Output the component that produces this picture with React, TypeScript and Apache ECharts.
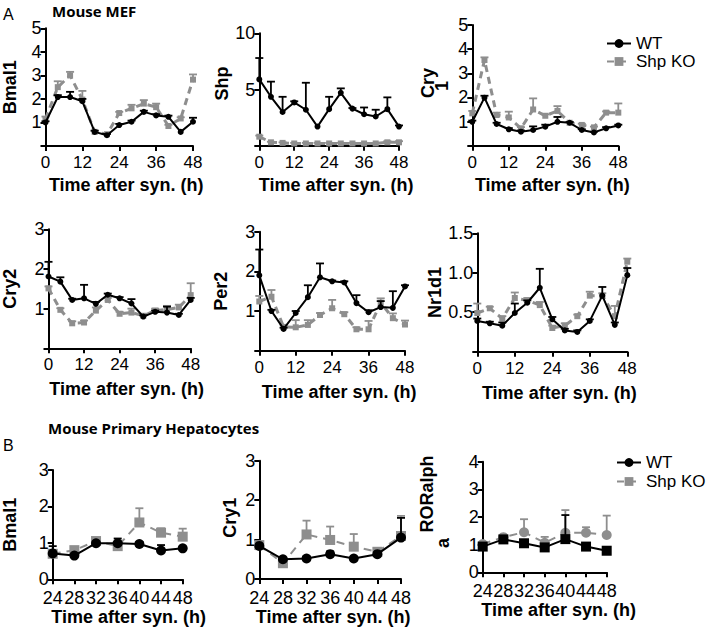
import React, { useEffect, useRef } from 'react';
import * as echarts from 'echarts';

// ---------- data ----------
const hoursA = [0, 4, 8, 12, 16, 20, 24, 28, 32, 36, 40, 44, 48];
const hoursB = [24, 28, 32, 36, 40, 44, 48];
const seriesNames = ['WT', 'Shp KO'];

// Panel A: Mouse MEF
const bmal1WT = [1.0, 2.08, 2.08, 1.9, 0.6, 0.46, 0.89, 1.03, 1.45, 1.3, 1.24, 0.6, 1.03];
const bmal1WTErr = [0.05, 0.08, 0.22, 0.1, 0.05, 0.05, 0.05, 0.05, 0.05, 0.05, 0.05, 0, 0.17];
const bmal1KO = [1.15, 2.5, 3.0, 1.97, 0.6, 0.5, 1.4, 1.6, 1.8, 1.65, 0.85, 1.17, 2.82];
const bmal1KOErr = [0.1, 0.25, 0.15, 0.37, 0.05, 0.05, 0.05, 0.15, 0.15, 0.15, 0.05, 0.05, 0.22];

const shpWT = [5.9, 4.35, 3.0, 3.85, 3.2, 1.7, 3.25, 4.7, 3.3, 2.8, 2.6, 3.25, 1.7];
const shpWTErr = [1.9, 1.35, 1.35, 0.1, 2.4, 0, 1.1, 0.4, 0.05, 0.6, 0.6, 1.05, 0.1];
const shpKO = [0.8, 0.3, 0.25, 0.2, 0.2, 0.2, 0.2, 0.2, 0.2, 0.2, 0.2, 0.3, 0.3];
const shpKOErr = [0.1, 0.05, 0.05, 0.05, 0.05, 0.05, 0.05, 0.05, 0.05, 0.05, 0.05, 0.1, 0.1];

const cry1WT = [0.99, 1.99, 0.9, 0.68, 0.58, 0.65, 0.79, 0.99, 0.95, 0.65, 0.55, 0.72, 0.84];
const cry1WTErr = [0.05, 0.08, 0.05, 0.05, 0.05, 0.15, 0.08, 0.2, 0.03, 0.03, 0.03, 0.05, 0.03];
const cry1KO = [1.34, 3.55, 1.27, 1.17, 0.72, 1.5, 1.24, 1.44, 0.95, 0.86, 0.76, 1.37, 1.37];
const cry1KOErr = [0.1, 0.11, 0.1, 0.24, 0.05, 0.46, 0.06, 0.2, 0.03, 0.05, 0.03, 0.05, 0.38];

const cry2WT = [1.81, 1.68, 1.22, 1.26, 1.12, 1.35, 1.26, 1.13, 0.8, 0.92, 0.9, 0.84, 1.22];
const cry2WTErr = [0.37, 0.11, 0.03, 0.34, 0.05, 0.03, 0.03, 0.11, 0.03, 0.03, 0.15, 0.03, 0.05];
const cry2KO = [1.51, 0.97, 0.63, 0.65, 0.95, 1.22, 0.87, 0.9, 0.82, 0.95, 0.98, 1.03, 1.34];
const cry2KOErr = [0.05, 0.04, 0.05, 0.05, 0.08, 0.05, 0.05, 0.1, 0.03, 0.05, 0.09, 0.07, 0.3];

const per2WT = [1.9, 1.0, 0.55, 0.95, 1.35, 1.85, 1.75, 1.72, 1.2, 0.97, 1.1, 1.08, 1.62];
const per2WTErr = [0.65, 0.03, 0.03, 0.05, 0.3, 0.35, 0.02, 0.03, 0.2, 0.05, 0.15, 0.42, 0.03];
const per2KO = [1.24, 1.36, 0.6, 0.59, 0.65, 0.9, 1.07, 0.92, 0.54, 0.54, 1.21, 0.82, 0.66];
const per2KOErr = [0.14, 0.17, 0.05, 0.18, 0.12, 0.05, 0.21, 0.05, 0.05, 0.21, 0.11, 0.12, 0.1];

const nr1d1WT = [0.39, 0.36, 0.33, 0.49, 0.62, 0.81, 0.41, 0.27, 0.25, 0.39, 0.71, 0.34, 0.97];
const nr1d1WTErr = [0.03, 0.02, 0.04, 0.12, 0.03, 0.24, 0.03, 0.02, 0.02, 0.02, 0.11, 0.03, 0.09];
const nr1d1KO = [0.49, 0.55, 0.42, 0.68, 0.65, 0.59, 0.3, 0.33, 0.45, 0.71, 0.71, 0.45, 1.14];
const nr1d1KOErr = [0.12, 0.02, 0.03, 0.07, 0.03, 0.04, 0.03, 0.03, 0.02, 0.05, 0.03, 0.13, 0.04];

// Panel B: Mouse Primary Hepatocytes
const hBmal1WT = [0.71, 0.65, 0.99, 0.99, 0.97, 0.79, 0.85];
const hBmal1WTErr = [0.2, 0.03, 0.03, 0.13, 0.05, 0.15, 0.03];
const hBmal1KO = [0.7, 0.8, 1.05, 0.91, 1.56, 1.28, 1.17];
const hBmal1KOErr = [0.03, 0.05, 0.03, 0.03, 0.39, 0.12, 0.22];

const hCry1WT = [0.84, 0.5, 0.52, 0.63, 0.52, 0.63, 1.05];
const hCry1WTErr = [0.05, 0.03, 0.05, 0.07, 0.03, 0.05, 0.5];
const hCry1KO = [0.86, 0.4, 1.13, 0.99, 0.82, 0.69, 1.09];
const hCry1KOErr = [0.05, 0.03, 0.35, 0.34, 0.32, 0.03, 0.51];

const hRorWT = [0.93, 1.19, 1.05, 0.9, 1.2, 0.93, 0.78];
const hRorWTErr = [0.05, 0.05, 0.05, 0.05, 0.87, 0.05, 0.05];
const hRorKO = [1.02, 1.27, 1.45, 1.07, 1.43, 1.43, 1.35];
const hRorKOErr = [0.05, 0.05, 0.47, 0.21, 0.82, 0.2, 0.7];

// wrapped y-axis names as in the figure
const cry1NameLines = ['Cry', '1'];
const rorNameLines = ['RORalph', 'a'];

// ---------- styling ----------
const FONT = '"Liberation Sans", Arial, Helvetica, sans-serif';
const TITLE_FONT = '"Open Sans", "Liberation Sans", sans-serif';
const BLACK = '#000000';
const GRAY = '#8e8e8e';

type Panel = {
  yName: string;
  hours: number[];
  wt: number[]; wtErr: number[]; ko: number[]; koErr: number[];
  rect: { left: number; top: number; width: number; height: number };
  yMax: number; yInterval: number; xMin: number; xInterval: number;
  big: boolean; swapMarkers?: boolean; showZero: boolean; decimals?: number;
  yNameGap: number; yNameShift: number; xNameGap: number; xNameShift: number;
};

const panels: Panel[] = [
  { yName: 'Bmal1', hours: hoursA, wt: bmal1WT, wtErr: bmal1WTErr, ko: bmal1KO, koErr: bmal1KOErr,
    rect: { left: 45, top: 28.3, width: 148, height: 117.7 }, yMax: 5, yInterval: 1, xMin: 0, xInterval: 12,
    big: false, showZero: false, yNameGap: 28, yNameShift: 0, xNameGap: 30, xNameShift: 7 },
  { yName: 'Shp', hours: hoursA, wt: shpWT, wtErr: shpWTErr, ko: shpKO, koErr: shpKOErr,
    rect: { left: 259.3, top: 33.3, width: 139.7, height: 112.4 }, yMax: 10, yInterval: 5, xMin: 0, xInterval: 12,
    big: false, showZero: false, yNameGap: 20, yNameShift: 6, xNameGap: 30, xNameShift: 7 },
  { yName: '', hours: hoursA, wt: cry1WT, wtErr: cry1WTErr, ko: cry1KO, koErr: cry1KOErr,
    rect: { left: 472.3, top: 25, width: 146, height: 120.7 }, yMax: 5, yInterval: 1, xMin: 0, xInterval: 12,
    big: false, showZero: false, yNameGap: 30, yNameShift: 0, xNameGap: 30, xNameShift: 7 },
  { yName: 'Cry2', hours: hoursA, wt: cry2WT, wtErr: cry2WTErr, ko: cry2KO, koErr: cry2KOErr,
    rect: { left: 46.7, top: 229.3, width: 144, height: 119 }, yMax: 3, yInterval: 1, xMin: 0, xInterval: 12,
    big: false, showZero: false, yNameGap: 31, yNameShift: 0, xNameGap: 32, xNameShift: 7 },
  { yName: 'Per2', hours: hoursA, wt: per2WT, wtErr: per2WTErr, ko: per2KO, koErr: per2KOErr,
    rect: { left: 259.3, top: 231.7, width: 145.7, height: 119 }, yMax: 3, yInterval: 1, xMin: 0, xInterval: 12,
    big: false, showZero: false, yNameGap: 31, yNameShift: 0, xNameGap: 32, xNameShift: 7 },
  { yName: 'Nr1d1', hours: hoursA, wt: nr1d1WT, wtErr: nr1d1WTErr, ko: nr1d1KO, koErr: nr1d1KOErr,
    rect: { left: 477.3, top: 233.3, width: 150, height: 118.4 }, yMax: 1.5, yInterval: 0.5, xMin: 0, xInterval: 12,
    big: false, showZero: false, decimals: 1, yNameGap: 22, yNameShift: 0, xNameGap: 32, xNameShift: 7 },
  { yName: 'Bmal1', hours: hoursB, wt: hBmal1WT, wtErr: hBmal1WTErr, ko: hBmal1KO, koErr: hBmal1KOErr,
    rect: { left: 52.7, top: 470, width: 130, height: 109.3 }, yMax: 3, yInterval: 1, xMin: 24, xInterval: 4,
    big: true, showZero: true, yNameGap: 35, yNameShift: 0, xNameGap: 29, xNameShift: 11 },
  { yName: 'Cry1', hours: hoursB, wt: hCry1WT, wtErr: hCry1WTErr, ko: hCry1KO, koErr: hCry1KOErr,
    rect: { left: 259.3, top: 460.7, width: 141.7, height: 118.3 }, yMax: 3, yInterval: 1, xMin: 24, xInterval: 4,
    big: true, showZero: true, yNameGap: 22, yNameShift: 2, xNameGap: 29, xNameShift: 3 },
  { yName: '', hours: hoursB, wt: hRorWT, wtErr: hRorWTErr, ko: hRorKO, koErr: hRorKOErr,
    rect: { left: 482.7, top: 461.7, width: 124, height: 110.6 }, yMax: 4, yInterval: 1, xMin: 24, xInterval: 4,
    big: true, swapMarkers: true, showZero: true, yNameGap: 33, yNameShift: 0, xNameGap: 29, xNameShift: 14 },
];

function errorSeries(idx: number, hours: number[], means: number[], errs: number[], color: string, z: number) {
  return {
    type: 'custom',
    xAxisIndex: idx,
    yAxisIndex: idx,
    silent: true,
    z,
    data: hours.map((h, k) => [h, means[k], means[k] + errs[k]]),
    encode: { x: 0, y: [1, 2] },
    renderItem: (_params: any, api: any) => {
      const x = api.value(0);
      const lo = api.value(1);
      const hi = api.value(2);
      if (hi - lo <= 0) return { type: 'group', children: [] };
      const p0 = api.coord([x, lo]);
      const p1 = api.coord([x, hi]);
      const hw = 4;
      const style = { stroke: color, lineWidth: 1.8 };
      return {
        type: 'group',
        children: [
          { type: 'line', shape: { x1: p0[0], y1: p0[1], x2: p1[0], y2: p1[1] }, style },
          { type: 'line', shape: { x1: p1[0] - hw, y1: p1[1], x2: p1[0] + hw, y2: p1[1] }, style },
        ],
      };
    },
  };
}

function buildOption() {
  const grid: any[] = [];
  const xAxis: any[] = [];
  const yAxis: any[] = [];
  const series: any[] = [];

  panels.forEach((p, i) => {
    grid.push({ ...p.rect, containLabel: false });
    const axisLine = { show: true, lineStyle: { color: BLACK, width: 2 } };
    const axisTick = { show: true, length: 5, lineStyle: { color: BLACK, width: 2 } };
    xAxis.push({
      type: 'value', gridIndex: i, min: p.xMin, max: 48, interval: p.xInterval,
      axisLine, axisTick, splitLine: { show: false },
      axisLabel: { color: BLACK, fontFamily: FONT, fontSize: p.big ? 18 : 17, margin: p.big ? 10 : 8 },
      name: 'Time after syn. (h)', nameLocation: 'middle', nameGap: p.xNameGap,
      nameTextStyle: { color: BLACK, fontFamily: FONT, fontWeight: 'bold', fontSize: 18,
        padding: [0, 0, 0, p.xNameShift * 2] },
    });
    yAxis.push({
      type: 'value', gridIndex: i, min: 0, max: p.yMax, interval: p.yInterval,
      axisLine, axisTick, splitLine: { show: false },
      axisLabel: {
        color: BLACK, fontFamily: FONT, fontSize: 18, margin: 4,
        formatter: (v: number) => (v === 0 && !p.showZero ? '' : p.decimals ? v.toFixed(p.decimals) : String(v)),
      },
      name: p.yName, nameLocation: 'middle', nameGap: p.yNameGap,
      nameTextStyle: { color: BLACK, fontFamily: FONT, fontWeight: 'bold', fontSize: 18, lineHeight: 15,
        padding: p.yNameShift ? [0, 0, 0, p.yNameShift * 2] : 0 },
    });

    const wtSymbol = p.swapMarkers ? 'rect' : 'circle';
    const koSymbol = p.swapMarkers ? 'circle' : 'rect';
    const sz = p.big ? 10 : 6;
    series.push(errorSeries(i, p.hours, p.ko, p.koErr, GRAY, 2));
    series.push({
      type: 'line', name: seriesNames[1], xAxisIndex: i, yAxisIndex: i,
      data: p.hours.map((h, k) => [h, p.ko[k]]),
      symbol: koSymbol, symbolSize: sz, showSymbol: true, z: 3,
      lineStyle: { color: GRAY, width: p.big ? 2 : 3, type: p.big ? [8, 6] : [7, 5] },
      itemStyle: { color: GRAY },
    });
    series.push(errorSeries(i, p.hours, p.wt, p.wtErr, BLACK, 4));
    series.push({
      type: 'line', name: seriesNames[0], xAxisIndex: i, yAxisIndex: i,
      data: p.hours.map((h, k) => [h, p.wt[k]]),
      symbol: wtSymbol, symbolSize: sz, showSymbol: true, z: 5,
      lineStyle: { color: BLACK, width: 2 },
      itemStyle: { color: BLACK },
    });
  });

  const legendBase = {
    data: seriesNames, orient: 'vertical', itemWidth: 24, itemHeight: 11, itemGap: 1,
    selectedMode: false, padding: 0,
    textStyle: { color: BLACK, fontFamily: FONT, fontSize: 17, lineHeight: 16 },
  };

  const nameStyle = { fontFamily: FONT, fontWeight: 'bold', fontSize: 18, fill: BLACK, align: 'center', verticalAlign: 'middle' };

  return {
    animation: false,
    backgroundColor: '#ffffff',
    grid, xAxis, yAxis, series,
    legend: [
      { ...legendBase, left: 606, top: 35 },
      { ...legendBase, left: 616, top: 454, itemGap: 2 },
    ],
    graphic: [
      { type: 'text', left: 3, top: 6, style: { text: 'A', fontFamily: FONT, fontSize: 16, fill: BLACK } },
      { type: 'text', left: 52, top: 3, style: { text: 'Mouse MEF', fontFamily: TITLE_FONT, fontWeight: 'bold', fontSize: 15, fill: BLACK } },
      { type: 'text', left: 3, top: 437, style: { text: 'B', fontFamily: FONT, fontSize: 16, fill: BLACK } },
      { type: 'text', left: 48, top: 420, style: { text: 'Mouse Primary Hepatocytes', fontFamily: TITLE_FONT, fontWeight: 'bold', fontSize: 15, fill: BLACK } },
      { type: 'text', x: 428, y: 83, rotation: Math.PI / 2, style: { ...nameStyle, text: cry1NameLines[0] } },
      { type: 'text', x: 442, y: 86, rotation: Math.PI / 2, style: { ...nameStyle, text: cry1NameLines[1] } },
      { type: 'text', x: 427, y: 494, rotation: Math.PI / 2, style: { ...nameStyle, text: rorNameLines[0] } },
      { type: 'text', x: 443, y: 543, rotation: Math.PI / 2, style: { ...nameStyle, text: rorNameLines[1] } },
    ],
  };
}

export default function App() {
  const ref = useRef<HTMLDivElement>(null);
  useEffect(() => {
    if (!ref.current) return;
    const chart = echarts.init(ref.current, undefined, { renderer: 'svg' });
    chart.setOption(buildOption() as any);
    return () => chart.dispose();
  }, []);
  return (
    <div
      ref={ref}
      style={{ position: 'fixed', left: 0, top: 0, width: 714, height: 629, background: '#fff' }}
    />
  );
}
